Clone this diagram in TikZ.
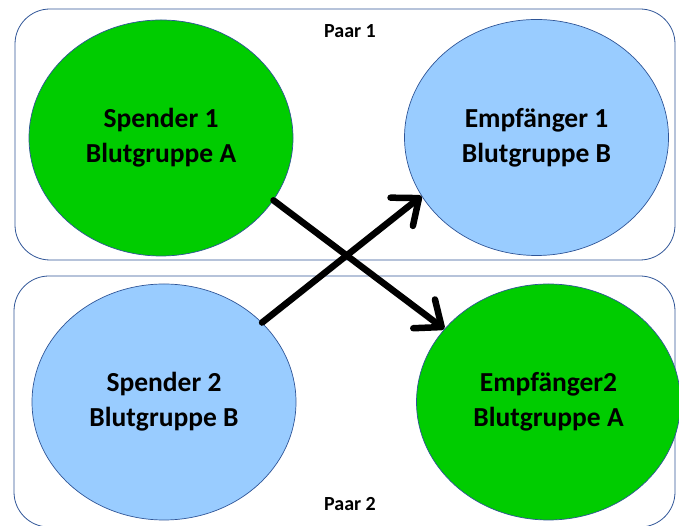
\documentclass[tikz,border=0pt]{standalone}
\usepackage{fontspec}
\setmainfont{Carlito}
\usetikzlibrary{shapes.geometric,arrows.meta}
\definecolor{frameblue}{HTML}{2F5597}
\definecolor{donorgreen}{HTML}{00CC00}
\definecolor{lightblue}{HTML}{99CCFF}
\begin{document}
\begin{tikzpicture}[x=1pt,y=1pt,
  pairbox/.style={draw=frameblue,line width=0.8pt,rounded corners=35pt},
  person/.style={ellipse,draw=frameblue,line width=0.7pt,minimum width=264pt,minimum height=236pt,inner sep=0pt,align=center,font=\fontsize{27.5}{35}\selectfont\bfseries},
  green/.style={person,fill=donorgreen},
  blue/.style={person,fill=lightblue},
  pairlabel/.style={font=\fontsize{20}{24}\selectfont\bfseries},
  swap/.style={line width=6.5pt,line cap=round,line join=round,-{Straight Barb[length=22pt,width=36pt,line width=6.5pt,round]}}
]
\useasboundingbox (0,0) rectangle (679,526);
\draw[pairbox] (15,266) rectangle (675,517);
\draw[pairbox] (14,-1) rectangle (675,250);
\node[pairlabel] (p1) at (350,495) {Paar 1};
\node[pairlabel] (p2) at (350,22) {Paar 2};
\node[green] (s1) at (161,388) {Spender 1\\Blutgruppe A};
\node[blue] (e1) at (536.5,388.5) {Empfänger 1\\Blutgruppe B};
\node[blue] (s2) at (164,124) {Spender 2\\Blutgruppe B};
\node[green] (e2) at (548.5,124) {Empfänger2\\Blutgruppe A};
\draw[swap] (s1.-29) -- (e2.145);
\draw[swap] (s2.39) -- (e1.207);
\end{tikzpicture}
\end{document}
